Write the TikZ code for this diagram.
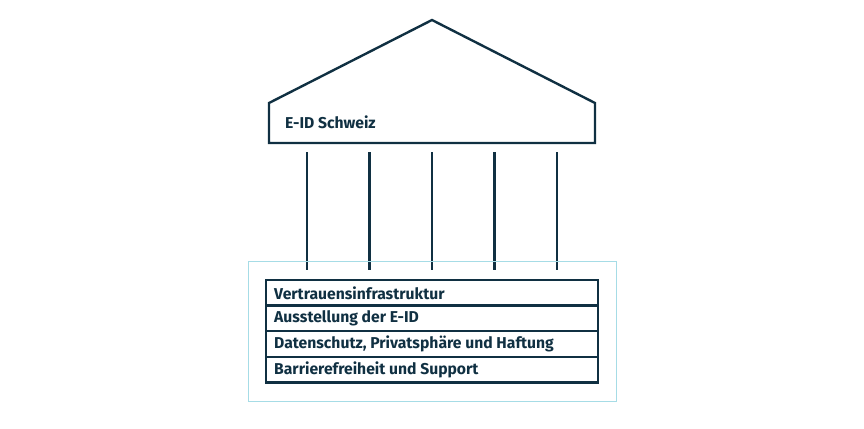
\documentclass[tikz,border=0pt]{standalone}
\usepackage{fontspec}
\setmainfont{Fira Sans}
\definecolor{dark}{RGB}{16,48,66}
\definecolor{lightblue}{RGB}{166,220,230}
\begin{document}
\begin{tikzpicture}[x=1pt,y=-1pt,
  darkline/.style={draw=dark,line width=2.4pt,line join=miter},
  rowbox/.style={draw=dark,line width=2.4pt,minimum width=332pt,minimum height=25.6pt,
    inner sep=0pt,outer sep=0pt,anchor=north west},
  rowtext/.style={anchor=west,text=dark,font=\bfseries\fontsize{15.7}{19}\selectfont,inner sep=0pt},
  pillar/.style={draw=dark,line width=2.4pt}]
\useasboundingbox (0,0) rectangle (864,428);
% roof
\coordinate (apex) at (432,20);
\coordinate (el) at (269,103);
\coordinate (er) at (595,103);
\coordinate (bl) at (269,143);
\coordinate (br) at (595,143);
\draw[darkline] (bl) -- (el) -- (apex) -- (er) -- (br) -- cycle;
\node[rowtext] (title) at (285,122) {E-ID Schweiz};
% pillars
\foreach \i/\x in {1/307,2/369.5,3/432,4/494.5,5/557}{
  \coordinate (pt\i) at (\x,152);
  \coordinate (pb\i) at (\x,270);
  \draw[pillar] (pt\i) -- (pb\i);
}
% outer light box
\node[draw=lightblue,line width=1.2pt,minimum width=368pt,minimum height=140pt,inner sep=0pt,anchor=north west] (outer) at (248,261) {};
% rows
\node[rowbox] (r1) at (266,280) {};
\node[rowbox] (r2) at (266,305.6) {};
\node[rowbox] (r3) at (266,331.2) {};
\node[rowbox] (r4) at (266,356.8) {};
\node[rowtext] (t1) at ([xshift=8pt]r1.west) {Vertrauensinfrastruktur};
\node[rowtext] (t2) at ([xshift=8pt]r2.west) {Ausstellung der E-ID};
\node[rowtext] (t3) at ([xshift=8pt]r3.west) {Datenschutz, Privatsphäre und Haftung};
\node[rowtext] (t4) at ([xshift=8pt]r4.west) {Barrierefreiheit und Support};
\end{tikzpicture}
\end{document}
